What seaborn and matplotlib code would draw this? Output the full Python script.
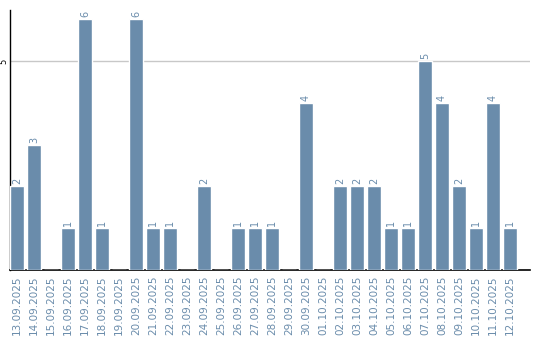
import matplotlib
matplotlib.use("Agg")
import matplotlib.pyplot as plt
import seaborn as sns
import pandas as pd

dates = ["13.09.2025", "14.09.2025", "15.09.2025", "16.09.2025", "17.09.2025",
         "18.09.2025", "19.09.2025", "20.09.2025", "21.09.2025", "22.09.2025",
         "23.09.2025", "24.09.2025", "25.09.2025", "26.09.2025", "27.09.2025",
         "28.09.2025", "29.09.2025", "30.09.2025", "01.10.2025", "02.10.2025",
         "03.10.2025", "04.10.2025", "05.10.2025", "06.10.2025", "07.10.2025",
         "08.10.2025", "09.10.2025", "10.10.2025", "11.10.2025", "12.10.2025"]
counts = [2, 3, 0, 1, 6, 1, 0, 6, 1, 1, 0, 2, 0, 1, 1, 1, 0, 4, 0, 2,
          2, 2, 1, 1, 5, 4, 2, 1, 4, 1]
yticks = [5]

bar_color = "#6a8cab"
text_color = "#6a8cab"

sns.set_theme(style="white")
plt.rcParams["font.family"] = ["DejaVu Sans"]

df = pd.DataFrame({"date": dates, "count": counts})

fig = plt.figure(figsize=(5.4, 3.4), dpi=100)
ax = fig.add_axes([10 / 540, 1 - 270 / 340, 520 / 540, 260 / 340])

sns.barplot(data=df, x="date", y="count", color=bar_color, saturation=1,
            width=0.82, ax=ax, zorder=3)

for i, v in enumerate(counts):
    if v > 0:
        ax.text(i, v + 0.05, str(v), rotation=90, ha="center", va="bottom",
                color=text_color, fontsize=7)

ax.set_xlim(-0.41, 30.18)
ax.set_ylim(0, 6.22)
ax.set_yticks(yticks)
ax.set_yticklabels([str(t) for t in yticks], rotation=90, va="center",
                   fontsize=6, color="black")
ax.yaxis.grid(True, color="#c8c8c8", linewidth=1, zorder=0)
ax.xaxis.grid(False)
ax.tick_params(axis="x", rotation=90, labelsize=7.5, labelcolor=text_color,
               length=0, pad=4)
ax.tick_params(axis="y", length=0, pad=1)
ax.set_xlabel("")
ax.set_ylabel("")

for s in ["top", "right"]:
    ax.spines[s].set_visible(False)
ax.spines["left"].set_color("black")
ax.spines["bottom"].set_color("black")
ax.spines["left"].set_linewidth(1)
ax.spines["bottom"].set_linewidth(1.2)

fig.savefig("out.png", dpi=100)
